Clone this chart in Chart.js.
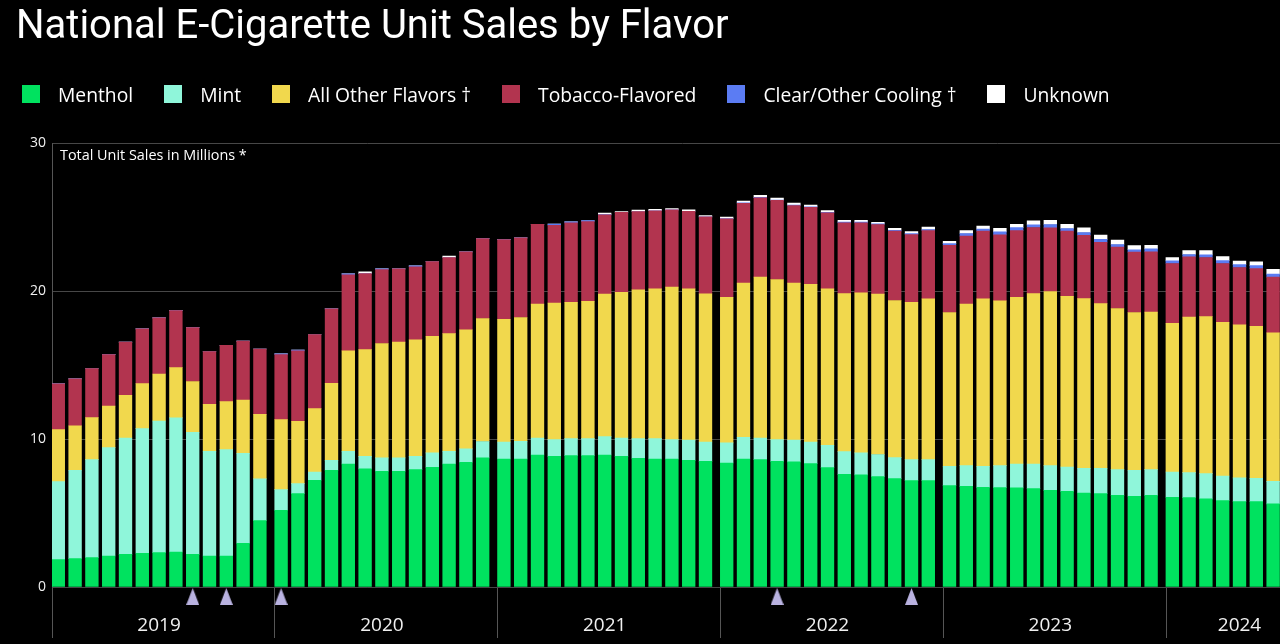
<!DOCTYPE html>
<html>
<head>
<meta charset="utf-8">
<script src="https://cdn.jsdelivr.net/npm/chart.js@4.4.1/dist/chart.umd.min.js"></script>
<style>
  html, body { margin: 0; padding: 0; background: #000; overflow: hidden; width: 1280px; height: 644px; }
  #wrap { position: absolute; left: 0; top: 0; width: 1326px; height: 644px; }
  #c { display: block; }
  #legend { position: absolute; left: 22px; top: 84px; height: 20px; display: flex; align-items: center;
            font-family: "Open Sans", sans-serif; font-size: 19.3px; color: #fff; white-space: nowrap; }
  .item { display: flex; align-items: center; margin-right: 31px; }
  .sw { width: 18px; height: 18px; margin-right: 18px; }
  #ytitle { position: absolute; left: 60px; top: 145px; font-family: "Open Sans", sans-serif; font-size: 14.4px;
            line-height: 20px; color: #fff; white-space: nowrap; }
</style>
</head>
<body>
<div id="wrap"><canvas id="c" width="1326" height="644"></canvas></div>
<div id="legend"></div>
<div id="ytitle">Total Unit Sales in Millions *</div>
<script>
// ---- data (4-week periods) ----
const years = ['2019', '2020', '2021', '2022', '2023', '2024'];
const periodsPerYear = [13, 13, 13, 13, 13, 7];

const menthol = [
  1.85,1.92,1.99,2.10,2.21,2.28,2.32,2.37,2.21,2.10,2.10,2.96,4.49,
  5.19,6.32,7.22,7.90,8.32,7.99,7.83,7.83,7.94,8.10,8.32,8.44,8.73,
  8.66,8.66,8.93,8.84,8.89,8.89,8.93,8.84,8.71,8.66,8.66,8.57,8.50,
  8.39,8.66,8.62,8.50,8.46,8.35,8.08,7.62,7.58,7.47,7.33,7.20,7.20,
  6.86,6.81,6.74,6.72,6.70,6.65,6.54,6.47,6.36,6.32,6.20,6.14,6.20,
  6.07,6.05,5.96,5.84,5.77,5.77,5.62
];
const mint = [
  5.28,5.98,6.63,7.33,7.87,8.43,8.91,9.07,8.26,7.08,7.19,6.09,2.82,
  1.40,0.67,0.56,0.67,0.86,0.85,0.90,0.90,0.90,0.97,0.86,0.90,1.11,
  1.15,1.20,1.15,1.13,1.15,1.15,1.24,1.24,1.33,1.38,1.31,1.36,1.31,
  1.36,1.47,1.46,1.47,1.47,1.46,1.51,1.54,1.49,1.49,1.42,1.42,1.42,
  1.31,1.40,1.43,1.49,1.62,1.67,1.67,1.65,1.67,1.71,1.74,1.76,1.74,
  1.71,1.69,1.71,1.67,1.61,1.58,1.53
];
const otherFlavors = [
  3.52,3.00,2.84,2.80,2.89,3.05,3.18,3.40,3.43,3.18,3.25,3.60,4.37,
  4.73,4.22,4.29,5.21,6.79,7.22,7.74,7.83,7.88,7.89,7.96,8.05,8.32,
  8.30,8.37,9.05,9.23,9.22,9.29,9.64,9.86,10.06,10.13,10.31,10.24,10.02,
  9.85,10.42,10.88,10.83,10.62,10.67,10.58,10.69,10.83,10.85,10.63,10.64,10.87,
  10.40,10.92,11.32,11.14,11.28,11.53,11.78,11.55,11.48,11.14,10.90,10.67,10.65,
  10.06,10.51,10.62,10.40,10.35,10.29,10.04
];
const tobacco = [
  3.09,3.18,3.32,3.49,3.59,3.70,3.79,3.86,3.65,3.57,3.81,3.98,4.42,
  4.40,4.76,5.01,5.03,5.14,5.14,5.00,4.96,4.94,5.06,5.15,5.28,5.41,
  5.39,5.39,5.41,5.27,5.37,5.39,5.36,5.41,5.30,5.28,5.23,5.25,5.21,
  5.30,5.41,5.37,5.35,5.25,5.21,5.14,4.78,4.73,4.71,4.69,4.58,4.62,
  4.55,4.60,4.58,4.47,4.51,4.47,4.30,4.40,4.27,4.15,4.15,4.08,4.08,
  4.04,4.08,4.00,3.97,3.88,3.90,3.77
];
const clearCooling = [
  0,0,0,0,0,0,0,0,0,0,0,0,0,
  0.06,0.06,0,0,0.08,0,0.06,0,0.06,0,0,0,0,
  0,0,0,0.08,0.07,0.07,0.03,0,0,0,0,0,0,
  0.02,0.02,0.03,0.03,0.04,0.03,0.04,0.05,0.05,0.04,0.06,0.06,0.07,
  0.11,0.18,0.14,0.20,0.20,0.18,0.23,0.18,0.20,0.20,0.18,0.16,0.20,
  0.18,0.16,0.18,0.20,0.20,0.20,0.20
];
const unknown = [
  0,0,0,0,0,0,0,0,0,0,0,0,0,
  0,0,0,0,0,0.12,0,0,0,0,0.10,0,0,
  0,0,0,0,0,0,0.09,0.05,0.09,0.09,0.09,0.09,0.09,
  0.10,0.12,0.13,0.13,0.13,0.11,0.11,0.13,0.13,0.11,0.14,0.14,0.16,
  0.16,0.20,0.20,0.25,0.22,0.27,0.29,0.29,0.32,0.29,0.29,0.29,0.25,
  0.23,0.27,0.29,0.27,0.23,0.25,0.32
];
const markerPeriods = ['2019 P9', '2019 P11', '2020 P1', '2022 P4', '2022 P12'];
const yTicks = [0, 10, 20, 30];

// ---- x layout: each year is a group of 4-week periods ----
const yearSpan = 13.262;      // width of one year in period units (incl. gap between years)
const firstOffset = 0.375;    // centre of period 1 from the year start
const yearLabelPeriod = [7, 7, 7, 7, 7, 5];
const xMax = 75;

const categories = [], xs = [];
years.forEach((y, yi) => {
  for (let p = 1; p <= periodsPerYear[yi]; p++) {
    categories.push(y + ' P' + p);
    xs.push(yi * yearSpan + firstOffset + (p - 1));
  }
});
const boundaryTicks = years.map((y, yi) => ({ value: yi * yearSpan, kind: 'b', text: '' }));
const labelTicks = years.map((y, yi) => ({ value: yi * yearSpan + firstOffset + yearLabelPeriod[yi] - 1, kind: 'l', text: y }));
const allTicks = boundaryTicks.concat(labelTicks).concat([{ value: xMax, kind: 'e', text: '' }])
  .sort((a, b) => a.value - b.value);

const series = [
  { label: 'Menthol', data: menthol, color: '#00e25f' },
  { label: 'Mint', data: mint, color: '#8ff6da' },
  { label: 'All Other Flavors †', data: otherFlavors, color: '#f1d84d' },
  { label: 'Tobacco-Flavored', data: tobacco, color: '#b2344f' },
  { label: 'Clear/Other Cooling †', data: clearCooling, color: '#5b7cf3' },
  { label: 'Unknown', data: unknown, color: '#ffffff' }
];

// legend (html)
const lg = document.getElementById('legend');
series.forEach(s => {
  const it = document.createElement('div'); it.className = 'item';
  const sw = document.createElement('div'); sw.className = 'sw'; sw.style.background = s.color;
  const tx = document.createElement('span'); tx.textContent = s.label;
  it.appendChild(sw); it.appendChild(tx); lg.appendChild(it);
});

// triangle marker image
const tri = document.createElement('canvas');
tri.width = 13; tri.height = 17;
const tc = tri.getContext('2d');
tc.fillStyle = '#b9b2e0';
tc.beginPath(); tc.moveTo(6.5, 0); tc.lineTo(13, 17); tc.lineTo(0, 17); tc.closePath(); tc.fill();
const markerData = markerPeriods.map(m => ({ x: xs[categories.indexOf(m)], y: -0.64 }));

const datasets = series.map(s => ({
  type: 'bar', label: s.label, data: s.data.map((v, i) => ({ x: xs[i], y: v })),
  backgroundColor: s.color, borderWidth: 0, barThickness: 12.7
}));
datasets.push({
  type: 'line', label: 'markers', data: markerData, showLine: false, clip: false,
  pointStyle: tri, pointRadius: 14, pointHoverRadius: 14, pointBorderWidth: 0,
  backgroundColor: '#b9b2e0', borderColor: '#b9b2e0'
});

const tickKind = v => { const t = allTicks.find(t => Math.abs(t.value - v) < 1e-6); return t || null; };
const gridCol = '#474747';
new Chart(document.getElementById('c'), {
  data: { datasets },
  options: {
    responsive: false, maintainAspectRatio: false, animation: false, devicePixelRatio: 1,
    events: [],
    layout: { padding: { left: 16, right: 8, top: 0, bottom: 0 } },
    plugins: {
      legend: { display: false },
      tooltip: { enabled: false },
      title: {
        display: true, text: 'National E-Cigarette Unit Sales by Flavor', align: 'start', color: '#ffffff',
        font: { family: 'Roboto', size: 40, weight: 'normal' }, padding: { top: 4, bottom: 91.5 }
      }
    },
    scales: {
      x: {
        type: 'linear', stacked: true, offset: false, min: 0, max: xMax,
        afterBuildTicks: s => { s.ticks = allTicks.map(t => ({ value: t.value })); },
        grid: {
          display: true, drawOnChartArea: false, drawTicks: true, tickLength: 51, offset: false,
          color: ctx => { const t = ctx.tick ? tickKind(ctx.tick.value) : null; return t && t.kind === 'b' ? '#555555' : 'rgba(0,0,0,0)'; },
          lineWidth: 1
        },
        border: { display: true, color: gridCol },
        ticks: {
          autoSkip: false, maxRotation: 0, minRotation: 0, padding: -23.4, color: '#f0f0f0',
          font: { family: 'Open Sans', size: 19 },
          callback: v => { const t = tickKind(v); return t ? t.text : ''; }
        },
        afterFit: s => { s.height = 57; s.paddingLeft = 0; s.paddingRight = 0; }
      },
      y: {
        stacked: true, min: 0, max: 30,
        afterBuildTicks: s => { s.ticks = yTicks.map(v => ({ value: v })); },
        grid: { color: gridCol, drawTicks: false },
        border: { display: true, color: '#555555' },
        ticks: { color: '#f0f0f0', padding: 6, font: { family: 'Open Sans', size: 14 } },
        afterFit: s => { s.width = 36; }
      }
    }
  }
});
</script>
</body>
</html>
